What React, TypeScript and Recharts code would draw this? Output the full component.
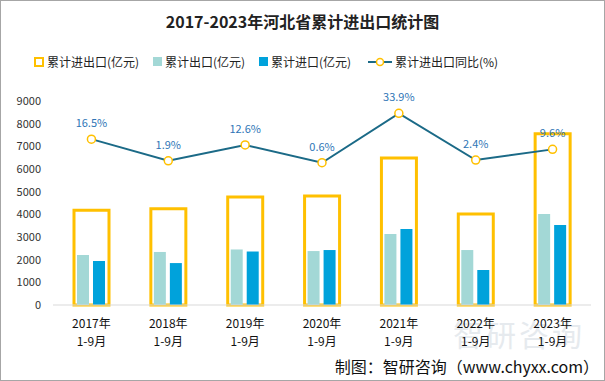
import React from 'react';
import { Bar, ComposedChart, LabelList, Line, XAxis, YAxis } from 'recharts';

const years = ['2017年', '2018年', '2019年', '2020年', '2021年', '2022年', '2023年'];
const period = '1-9月';
const totalTrade = [4180, 4250, 4770, 4810, 6490, 4015, 7560];
const exportsVal = [2205, 2340, 2450, 2380, 3130, 2425, 4015];
const importsVal = [1940, 1850, 2360, 2425, 3350, 1545, 3530];
const yoy = [16.5, 1.9, 12.6, 0.6, 33.9, 2.4, 9.6];
const yTicks = [0, 1000, 2000, 3000, 4000, 5000, 6000, 7000, 8000, 9000];

const data = years.map((y, i) => ({
  year: y,
  total: totalTrade[i],
  exp: exportsVal[i],
  imp: importsVal[i],
  yoy: yoy[i],
}));

const FONT = '"Noto Sans CJK SC", "Noto Sans", sans-serif';
const C = {
  total: '#ffc000',
  exp: '#a3d8d6',
  imp: '#00a2db',
  line: '#1b6a87',
  label: '#2e75b6',
  axis: '#d9d9d9',
};

const YearTick = (props: any) => {
  const { x, y, payload } = props;
  return (
    <text x={x} y={y} textAnchor="middle" fontSize={12} fill="#111" fontFamily={FONT}>
      <tspan x={x} dy={15}>{payload.value}</tspan>
      <tspan x={x} dy={18}>{period}</tspan>
    </text>
  );
};

const Dot = (props: any) => {
  const { cx, cy } = props;
  return <circle cx={cx} cy={cy} r={4} fill="#fff" stroke={C.total} strokeWidth={1.5} />;
};

function LegendRow() {
  const item = (left: number, icon: React.ReactNode, text: string) => (
    <div style={{ position: 'absolute', left, top: 52, display: 'flex', alignItems: 'center', fontSize: 12, color: '#222' }}>
      {icon}
      <span style={{ marginLeft: 3 }}>{text}</span>
    </div>
  );
  return (
    <>
      {item(33, <span style={{ width: 6, height: 6, border: `2px solid ${C.total}`, display: 'inline-block' }} />, '累计进出口(亿元)')}
      {item(152, <span style={{ width: 9, height: 9, background: C.exp, display: 'inline-block' }} />, '累计出口(亿元)')}
      {item(258, <span style={{ width: 9, height: 9, background: C.imp, display: 'inline-block' }} />, '累计进口(亿元)')}
      {item(367,
        <svg width={24} height={10}>
          <line x1={0} y1={5} x2={24} y2={5} stroke={C.line} strokeWidth={2} />
          <circle cx={12} cy={5} r={3.5} fill="#fff" stroke={C.total} strokeWidth={1.5} />
        </svg>,
        '累计进出口同比(%)')}
    </>
  );
}

export default function App() {
  return (
    <div style={{ position: 'absolute', left: 0, top: 0, width: 605, height: 381, boxSizing: 'border-box', border: '1px solid #a6a6a6', background: '#fff', fontFamily: FONT, overflow: 'hidden' }}>
      <div style={{ position: 'absolute', top: 8, width: '100%', textAlign: 'center', fontSize: 16, fontWeight: 'bold', color: '#222' }}>
        2017-2023年河北省累计进出口统计图
      </div>
      <LegendRow />
      <div style={{ position: 'absolute', left: 452, top: 310, fontSize: 30, color: '#b8c4d0', opacity: 0.35, letterSpacing: 3 }}>智研咨询</div>
      <div style={{ position: 'absolute', right: 5, top: 353, fontSize: 16, color: '#111', whiteSpace: 'nowrap' }}>
        制图：智研咨询（www.chyxx.com）
      </div>
      <div style={{ position: 'absolute', left: 0, top: 0 }}>
        <ComposedChart width={605} height={381} data={data} margin={{ top: 100, right: 15, bottom: 0, left: 12 }} barGap={4}>
          <XAxis dataKey="year" axisLine={{ stroke: C.axis }} tickLine={false} tick={<YearTick />} interval={0} height={77} />
          <XAxis dataKey="year" xAxisId="outer" hide />
          <YAxis
            domain={[0, 9000]}
            ticks={yTicks}
            interval={0}
            width={40}
            axisLine={false}
            tickLine={false}
            tickSize={0}
            tickMargin={12}
            tick={{ fontSize: 11, fill: '#333', fontFamily: FONT }}
          />
          <YAxis yAxisId="pct" orientation="right" hide domain={[-95.3, 42.2]} />
          <Bar dataKey="total" xAxisId="outer" fill="none" stroke={C.total} strokeWidth={3} barSize={35} isAnimationActive={false} />
          <Bar dataKey="exp" fill={C.exp} barSize={12} isAnimationActive={false} />
          <Bar dataKey="imp" fill={C.imp} barSize={12} isAnimationActive={false} />
          <Line
            dataKey="yoy"
            yAxisId="pct"
            stroke={C.line}
            strokeWidth={2}
            dot={<Dot />}
            activeDot={false}
            isAnimationActive={false}
          >
            <LabelList dataKey="yoy" position="top" offset={12} formatter={(v: any) => `${v}%`} style={{ fontSize: 11, fill: C.label, fontFamily: FONT }} />
          </Line>
        </ComposedChart>
      </div>
    </div>
  );
}
